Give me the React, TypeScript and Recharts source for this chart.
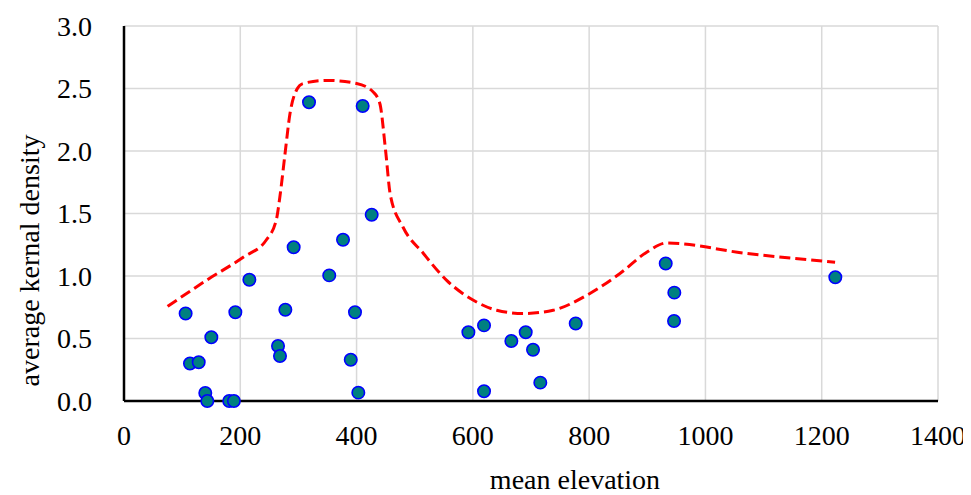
import React from 'react';
import { ScatterChart, Scatter, XAxis, YAxis, CartesianGrid } from 'recharts';

// Observed points
const elevation = [106, 113.5, 128.5, 139.8, 143.3, 150.2, 181, 189, 191.5, 215.6, 264.9, 268.3, 277.5, 291.8, 318.2, 353, 376.7, 390, 397.3, 403, 410.5, 426, 592.3, 619.2, 619.2, 666.2, 690.9, 703.5, 716, 776.9, 931.7, 946, 946.5, 1223.4];
const density = [0.70, 0.30, 0.31, 0.064, 0.0, 0.51, 0.0, 0.0, 0.71, 0.97, 0.44, 0.36, 0.73, 1.23, 2.39, 1.005, 1.29, 0.33, 0.71, 0.067, 2.36, 1.49, 0.55, 0.605, 0.078, 0.48, 0.55, 0.41, 0.147, 0.62, 1.10, 0.64, 0.867, 0.99];

// Dashed curve points
const curveElevation = [75, 142, 205, 245, 262, 268, 277, 285.5, 297, 308, 349, 400, 429, 440, 450, 458, 480, 515, 555, 601, 641, 687, 738, 796, 853, 899, 933, 1071, 1223];
const curveDensity = [0.757, 0.966, 1.15, 1.29, 1.45, 1.63, 1.98, 2.30, 2.49, 2.54, 2.565, 2.54, 2.47, 2.38, 2.0, 1.65, 1.39, 1.18, 0.965, 0.806, 0.726, 0.70, 0.726, 0.846, 1.02, 1.19, 1.264, 1.18, 1.11];

const xTicks = [0, 200, 400, 600, 800, 1000, 1200, 1400];
const yTicks = [0, 0.5, 1.0, 1.5, 2.0, 2.5, 3.0];

const points = elevation.map((x, i) => ({ x, y: density[i] }));
const curve = curveElevation.map((x, i) => ({ x, y: curveDensity[i] }));

const FONT = '"Liberation Serif", "Times New Roman", serif';

export default function App() {
  return (
    <div style={{ margin: '-8px 0 0 -8px', width: 971, height: 495 }}>
      <ScatterChart width={971} height={495} margin={{ top: 26, right: 33, bottom: 0, left: 0 }}>
        <CartesianGrid stroke="#d9d9d9" strokeWidth={1.5} />
        <XAxis
          type="number"
          dataKey="x"
          domain={[0, 1400]}
          ticks={xTicks}
          height={94}
          tickLine={false}
          tickSize={0}
          tickMargin={24}
          axisLine={{ stroke: '#000', strokeWidth: 2.5 }}
          tick={{ fill: '#000', fontSize: 28, fontFamily: FONT }}
          interval={0}
          label={{ value: 'mean elevation', position: 'insideBottom', offset: 6, dx: 44, fill: '#000', fontSize: 28, fontFamily: FONT }}
        />
        <YAxis
          type="number"
          dataKey="y"
          domain={[0, 3]}
          ticks={yTicks}
          width={124}
          tickLine={false}
          tickSize={0}
          tickMargin={32}
          interval={0}
          tickFormatter={(v: number) => v.toFixed(1)}
          axisLine={{ stroke: '#000', strokeWidth: 2.5 }}
          tick={{ fill: '#000', fontSize: 28, fontFamily: FONT }}
          label={{ value: 'average kernal density', angle: -90, position: 'center', dx: -33, dy: 47, fill: '#000', fontSize: 28, fontFamily: FONT }}
        />
        <Scatter
          data={curve}
          isAnimationActive={false}
          line={{ stroke: '#ff0000', strokeWidth: 3, strokeDasharray: '11 5' }}
          lineJointType="monotoneX"
          shape={() => <g />}
        />
        <Scatter
          data={points}
          isAnimationActive={false}
          shape={(p: any) => (
            <circle cx={p.cx} cy={p.cy} r={6.2} fill="#008080" stroke="#0000ff" strokeWidth={1.6} />
          )}
        />
      </ScatterChart>
    </div>
  );
}
